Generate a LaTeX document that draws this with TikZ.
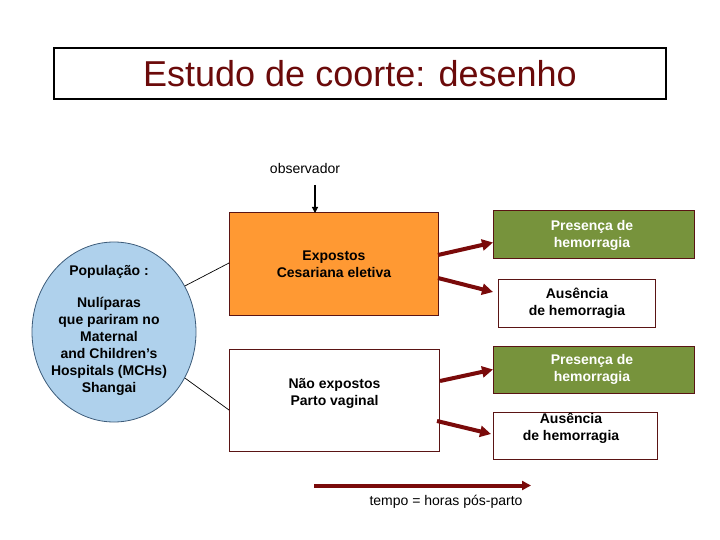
\documentclass[tikz,border=0pt]{standalone}
\usepackage{fontspec}
\setmainfont{Liberation Sans}
\usetikzlibrary{shapes.geometric,arrows.meta}
\definecolor{titlered}{HTML}{6B0A0A}
\definecolor{arrowred}{HTML}{7A0A0A}
\definecolor{boxedge}{HTML}{5A1414}
\definecolor{orangefill}{HTML}{FF9933}
\definecolor{greenfill}{HTML}{77933C}
\definecolor{bluefill}{HTML}{AFD1EC}
\definecolor{blueedge}{HTML}{3D5C7A}
\tikzset{
  box/.style={draw=boxedge, line width=1pt, inner sep=0pt, outer sep=0pt},
  txt/.style={font=\fontsize{14}{17}\selectfont\bfseries, align=center, inner sep=0pt},
  fatarrow/.style={draw=arrowred, line width=4pt, -{Triangle[length=11pt,width=11pt]}},
  thinline/.style={draw=black, line width=0.7pt},
  handfont/.style={font=\fontsize{14}{16}\selectfont, inner sep=0pt}
}
\begin{document}
\begin{tikzpicture}[x=1pt,y=-1pt]
\useasboundingbox[fill=white] (0,0) rectangle (720,540);
% title
\node[draw=black, line width=1.2pt, minimum width=612pt, minimum height=51pt, inner sep=0pt] (title) at (360,73.5) {};
\node[font=\fontsize{36}{40}\selectfont, text=titlered, inner sep=0pt] (titletxt) at (360,74) {Estudo de coorte: desenho};
% observer
\node[handfont] (obs) at (305,168) {observador};
\coordinate (obsend) at (315,185);
% population
\node[ellipse, draw=blueedge, line width=0.8pt, fill=bluefill, minimum width=164pt, minimum height=180pt, inner sep=0pt] (pop) at (114,332) {};
\node[txt] (poptxt) at (109,330) {População :\\[15pt]Nulíparas\\que pariram no\\Maternal\\and Children’s\\Hospitals (MCHs)\\Shangai};
% exposed / unexposed
\node[box, fill=orangefill, minimum width=209pt, minimum height=102pt] (exp) at (333.5,264) {};
\node[txt] (exptxt) at (334,264.5) {Expostos\\Cesariana eletiva};
\node[box, fill=white, minimum width=210pt, minimum height=102pt] (nexp) at (334,400) {};
\node[txt] (nexptxt) at (334.5,393) {Não expostos\\Parto vaginal};
% outcomes
\node[box, fill=greenfill, minimum width=201pt, minimum height=47pt] (g1) at (593.5,234.5) {};
\node[txt, text=white] (g1txt) at (592,235) {Presença de\\hemorragia};
\node[box, fill=white, minimum width=157pt, minimum height=48pt] (a1) at (576.5,303) {};
\node[txt] (a1txt) at (577,303.5) {Ausência\\de hemorragia};
\node[box, fill=greenfill, minimum width=201pt, minimum height=47pt] (g2) at (593.5,369.5) {};
\node[txt, text=white] (g2txt) at (592,369.5) {Presença de\\hemorragia};
\node[box, fill=white, minimum width=164pt, minimum height=47pt] (a2) at (575,435.5) {};
\node[txt] (a2txt) at (571,428) {Ausência\\de hemorragia};
% connectors
\draw[black, line width=1.2pt, -{Triangle[length=6pt,width=6pt]}] (obsend) -- (exp.north -| obsend);
\draw[thinline] (pop.33) -- ([yshift=1pt]exp.west);
\draw[thinline] (pop.-33) -- ([yshift=-10pt]nexp.west);
\draw[fatarrow] ([yshift=9pt]exp.east) -- ([yshift=-8pt]g1.west);
\draw[fatarrow] ([yshift=-14pt]exp.east) -- ([xshift=-5pt,yshift=11pt]a1.west);
\draw[fatarrow] ([xshift=1pt,yshift=19pt]nexp.east) -- (g2.west);
\draw[fatarrow] ([xshift=-2pt,yshift=-21pt]nexp.east) -- ([xshift=-2pt,yshift=1.5pt]a2.west);
% time axis
\coordinate (t0) at (314,485.5);
\coordinate (t1) at (531,485.5);
\draw[draw=arrowred, line width=4pt, -{Triangle[length=9pt,width=9pt]}] (t0) -- (t1);
\node[handfont] (ttxt) at (446,502) {tempo = horas pós-parto};
\end{tikzpicture}
\end{document}
